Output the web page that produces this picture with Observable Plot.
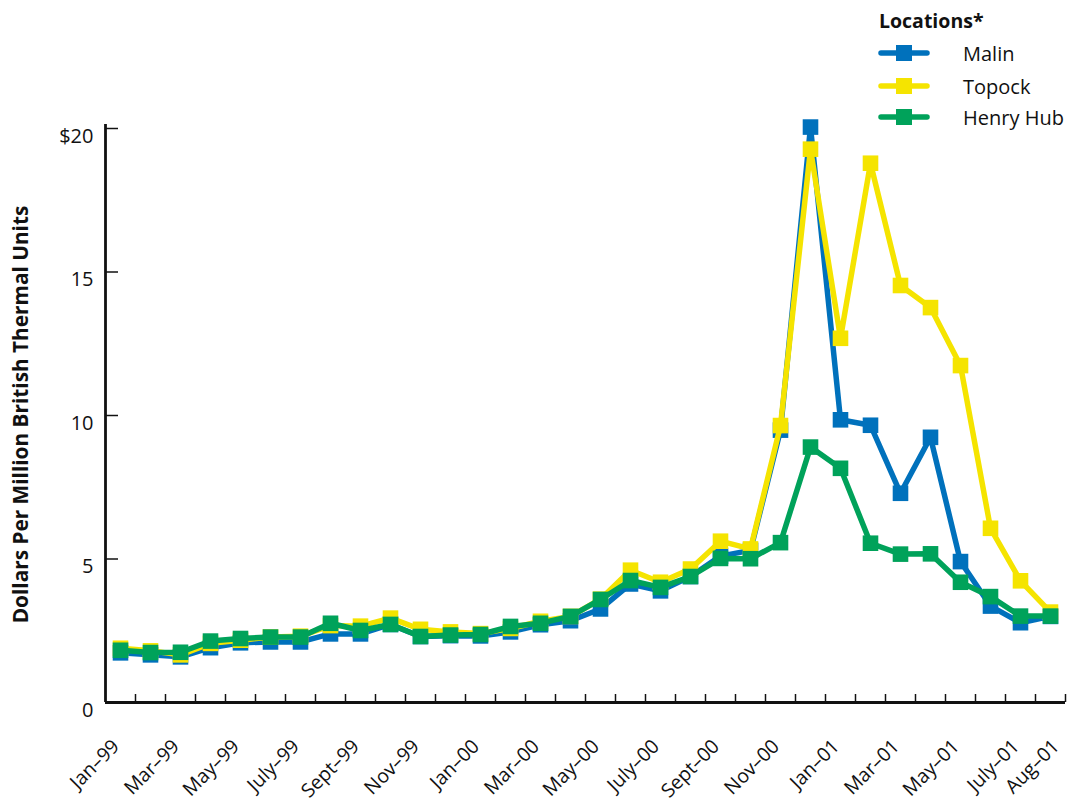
<!DOCTYPE html>
<html><head><meta charset="utf-8">
<script src="https://cdn.jsdelivr.net/npm/d3@7"></script>
<script src="https://cdn.jsdelivr.net/npm/@observablehq/plot@0.6"></script>
<style>
body{margin:0;background:#fff;font-family:"Open Sans",sans-serif;}
#wrap{position:relative;width:1069px;height:802px;}
#legend{position:absolute;left:0;top:0;pointer-events:none;}
</style></head><body><div id="wrap"></div>
<script>
const months = ["Jan–99","Feb–99","Mar–99","Apr–99","May–99","June–99","July–99","Aug–99","Sept–99","Oct–99","Nov–99","Dec–99",
  "Jan–00","Feb–00","Mar–00","Apr–00","May–00","June–00","July–00","Aug–00","Sept–00","Oct–00","Nov–00","Dec–00",
  "Jan–01","Feb–01","Mar–01","Apr–01","May–01","June–01","July–01","Aug–01"];
const labeledMonths = ["Jan–99","Mar–99","May–99","July–99","Sept–99","Nov–99","Jan–00","Mar–00","May–00","July–00","Sept–00","Nov–00","Jan–01","Mar–01","May–01","July–01","Aug–01"];
const malin = [1.73,1.66,1.59,1.91,2.08,2.11,2.11,2.39,2.39,2.72,2.30,2.33, 2.32,2.46,2.71,2.85,3.26,4.13,3.89,4.39,5.10,5.30,9.49,20.05, 9.85,9.66,7.29,9.24,4.91,3.36,2.78,3.00];
const topock = [1.89,1.80,1.66,2.06,2.17,2.28,2.31,2.68,2.66,2.94,2.55,2.46, 2.40,2.58,2.83,3.00,3.60,4.61,4.19,4.65,5.62,5.35,9.65,19.28, 12.69,18.79,14.53,13.76,11.74,6.07,4.24,3.15];
const henryHub = [1.82,1.74,1.75,2.14,2.23,2.28,2.28,2.76,2.51,2.72,2.30,2.35, 2.37,2.65,2.76,3.00,3.59,4.25,4.01,4.39,5.02,5.01,5.57,8.90, 8.16,5.55,5.17,5.18,4.19,3.69,3.01,3.01];
const seriesNames = ["Malin","Topock","Henry Hub"];
const seriesColors = ["#0071bc","#f5e400","#00a25a"];
const yTicks = [0,5,10,15,20];
const legendTitle = "Locations*";
const yTitle = "Dollars Per Million British Thermal Units";

const seriesValues = [malin, topock, henryHub];
const rows = seriesValues.map((vals, s) => vals.map((v, i) => ({series: seriesNames[s], i, v})));
const boundaries = months.map((m, i) => i + 0.5);
const labelIdx = labeledMonths.map(l => months.indexOf(l));
const lastIdx = labelIdx.slice(-1);
const mainIdx = labelIdx.slice(0, -1);

const font = '"Open Sans", sans-serif';
const seriesMarks = rows.flatMap((r, s) => [
  Plot.line(r, {x: "i", y: "v", stroke: seriesColors[s], strokeWidth: 5.5, strokeLinejoin: "round"}),
  Plot.dot(r, {x: "i", y: "v", symbol: "square", r: 8.8, fill: seriesColors[s], stroke: "none"})
]);
const labelOpts = {x: d => d, text: d => months[d], frameAnchor: "bottom", rotate: -45, textAnchor: "end", dy: 45, fontSize: 19.5, fill: "#111"};

const chart = Plot.plot({
  width: 1069, height: 802,
  marginLeft: 105, marginRight: 4, marginTop: 128, marginBottom: 100,
  style: {fontFamily: font, fontSize: "20px", color: "#111", background: "#fff"},
  x: {domain: [-0.5, months.length - 0.5], axis: null},
  y: {domain: [0, 20], axis: null},
  marks: [
    Plot.axisX({ticks: boundaries, tickSize: -8, tickFormat: () => "", label: null, strokeWidth: 1.5, stroke: "#111"}),
    Plot.axisY({ticks: yTicks, tickSize: -13, tickFormat: () => "", label: null, strokeWidth: 1.5, stroke: "#111"}),
    Plot.ruleX([-0.5], {stroke: "#111", strokeWidth: 2.8, insetTop: -4}),
    Plot.ruleY([0], {stroke: "#111", strokeWidth: 2.8}),
    Plot.text(yTicks, {y: d => d, text: d => d === 20 ? "$20" : String(d), frameAnchor: "left", textAnchor: "end", dx: -12, dy: 8, fontSize: 20, fill: "#111"}),
    Plot.text(mainIdx, {...labelOpts, dx: 0}),
    Plot.text(lastIdx, {...labelOpts, dx: 10}),
    Plot.text([yTitle], {text: d => d, frameAnchor: "left", textAnchor: "middle", rotate: -90, dx: -84, dy: -1, fontWeight: "bold", fontSize: 20.8, fill: "#111"}),
    ...seriesMarks
  ]
});
const wrap = document.getElementById("wrap");
wrap.appendChild(chart);

// legend
const leg = d3.select(wrap).append("svg").attr("id", "legend").attr("width", 1069).attr("height", 130)
  .style("font-family", font);
leg.append("text").attr("x", 879).attr("y", 20).attr("dominant-baseline", "central")
  .attr("font-weight", "bold").attr("font-size", 19.5).attr("fill", "#111").text(legendTitle);
const legY = [53, 86, 117];
seriesNames.forEach((name, s) => {
  const g = leg.append("g");
  g.append("line").attr("x1", 881).attr("x2", 927).attr("y1", legY[s]).attr("y2", legY[s])
    .attr("stroke", seriesColors[s]).attr("stroke-width", 5.5).attr("stroke-linecap", "round");
  g.append("rect").attr("x", 896).attr("y", legY[s] - 8).attr("width", 16).attr("height", 16).attr("fill", seriesColors[s]);
  g.append("text").attr("x", 963).attr("y", legY[s]).attr("dominant-baseline", "central")
    .attr("font-size", 20).attr("fill", "#111").text(name);
});
</script></body></html>
